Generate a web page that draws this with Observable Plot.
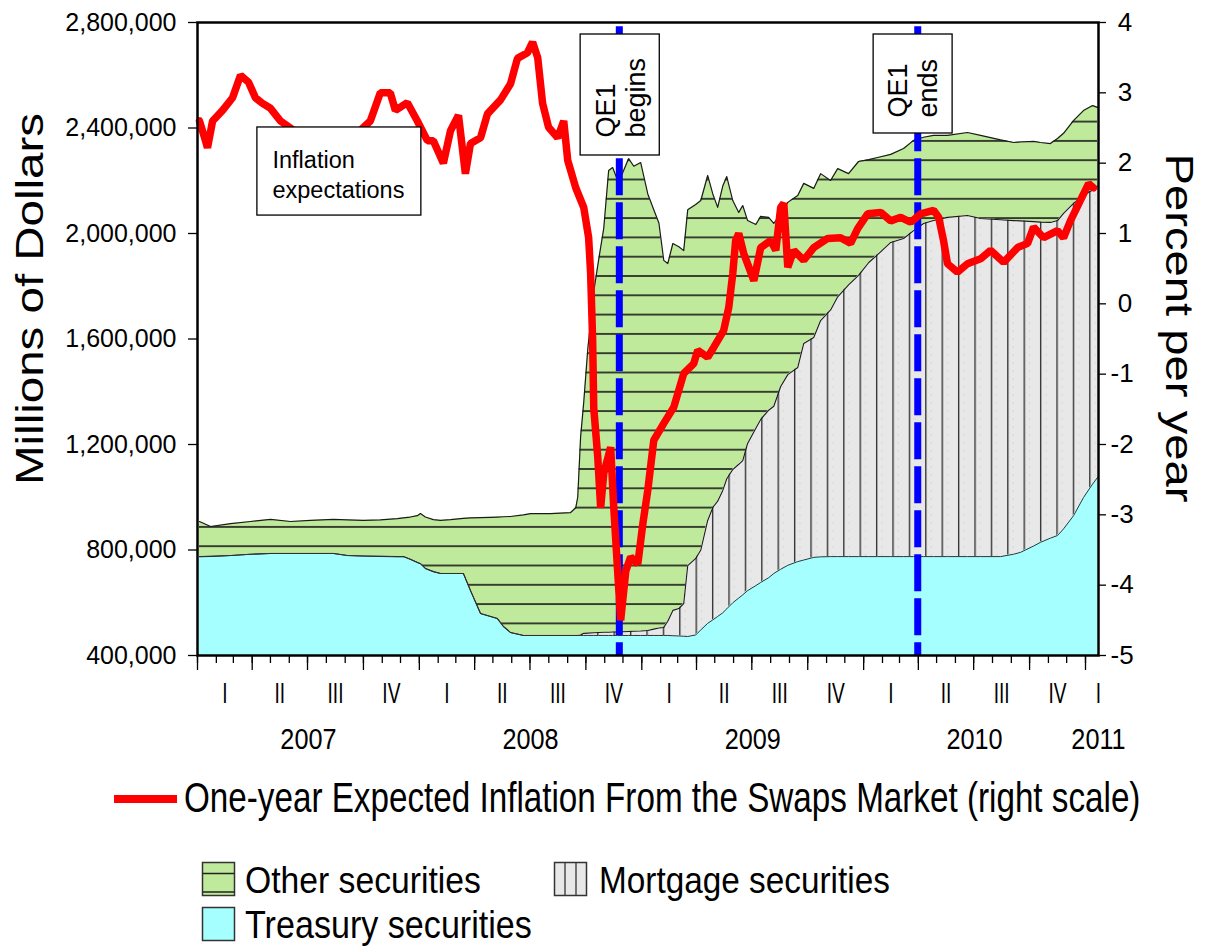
<!DOCTYPE html>
<html>
<head>
<meta charset="utf-8">
<script src="https://cdn.jsdelivr.net/npm/d3@7"></script>
<script src="https://cdn.jsdelivr.net/npm/@observablehq/plot@0.6"></script>
<style>
  body { margin: 0; background: #fff; font-family: "Liberation Sans", Arial, sans-serif; }
  #chart svg, #legend svg { display: block; }
</style>
</head>
<body>
<div id="chart"></div>
<div id="legend"></div>
<script>
// ---------- DATA ----------
// Fed securities holdings, billions of dollars (x1000 = millions), dates as decimal years
const secDates = [2007.009, 2007.059, 2007.149, 2007.239, 2007.329, 2007.419, 2007.509, 2007.613, 2007.676, 2007.748,
  2007.824, 2007.901, 2007.928, 2007.959, 2007.991, 2008.005, 2008.027, 2008.063, 2008.095, 2008.140,
  2008.198, 2008.230, 2008.275, 2008.320, 2008.351, 2008.378, 2008.410, 2008.468, 2008.500, 2008.590,
  2008.680, 2008.703, 2008.712, 2008.725, 2008.739, 2008.757, 2008.784, 2008.806, 2008.829, 2008.851,
  2008.869, 2008.892, 2008.914, 2008.941, 2008.964, 2008.995, 2009.027, 2009.054, 2009.077, 2009.099,
  2009.117, 2009.140, 2009.167, 2009.189, 2009.207, 2009.243, 2009.266, 2009.297, 2009.320, 2009.342,
  2009.365, 2009.383, 2009.410, 2009.437, 2009.455, 2009.477, 2009.514, 2009.536, 2009.572, 2009.595,
  2009.626, 2009.658, 2009.703, 2009.730, 2009.775, 2009.806, 2009.851, 2009.883, 2009.932, 2009.977,
  2010.023, 2010.063, 2010.122, 2010.180, 2010.225, 2010.270, 2010.315, 2010.378, 2010.468, 2010.527,
  2010.617, 2010.676, 2010.707, 2010.766, 2010.797, 2010.842, 2010.874, 2010.901, 2010.946, 2010.991,
  2011.032, 2011.054];
const treasury = [775, 776, 779, 784, 787, 787, 787, 787, 779, 777,
  776, 775, 775, 765, 753, 748, 730, 718, 711, 711,
  711, 646, 559, 548, 540, 510, 487, 476, 476, 476,
  476, 476, 476, 476, 476, 476, 476, 476, 476, 476,
  476, 476, 476, 476, 476, 476, 476, 476, 476, 476,
  476, 475, 474, 473, 472, 478, 497, 522, 535, 548,
  562, 577, 600, 618, 630, 646, 665, 677, 695, 711,
  727, 742, 756, 762, 772, 774, 775, 775, 775, 775,
  775, 775, 775, 775, 775, 775, 775, 775, 775, 775,
  775, 784, 791, 815, 829, 845, 855, 880, 930, 999,
  1050, 1075];
const mortgage = [0, 0, 0, 0, 0, 0, 0, 0, 0, 0,
  0, 0, 0, 0, 0, 0, 0, 0, 0, 0,
  0, 0, 0, 0, 0, 0, 0, 0, 0, 0,
  0, 0, 0, 2, 8, 9, 10, 11, 12, 12,
  13, 13, 14, 15, 16, 17, 19, 24, 28, 30,
  54, 96, 104, 124, 269, 290, 303, 390, 426, 437,
  464, 493, 505, 507, 509, 558, 597, 618, 635, 634,
  693, 723, 736, 821, 834, 896, 935, 985, 1030, 1066,
  1115, 1145, 1191, 1206, 1236, 1263, 1274, 1286, 1293, 1282,
  1277, 1265, 1257, 1230, 1214, 1197, 1194, 1196, 1184, 1145,
  1115, 1105];
const other = [133, 113, 121, 124, 129, 121, 125, 129, 135, 135,
  138, 144, 147, 160, 177, 190, 195, 197, 201, 204,
  209, 276, 364, 376, 385, 416, 440, 457, 462, 462,
  466, 484, 524, 752, 876, 1075, 1294, 1413, 1532, 1751,
  1761, 1711, 1740, 1793, 1763, 1776, 1655, 1590, 1536, 1392,
  1356, 1391, 1372, 1338, 1349, 1342, 1325, 1308, 1189, 1114,
  1154, 1146, 1020, 955, 967, 845, 772, 770, 731, 693,
  655, 653, 652, 607, 565, 557, 491, 486, 422, 432,
  390, 368, 334, 341, 342, 327, 323, 311, 315, 315,
  303, 296, 299, 304, 302, 299, 311, 304, 314, 322,
  320, 298];

// One-year expected inflation from the swaps market, percent per year
const inflDates = [2007.009, 2007.036, 2007.045, 2007.068, 2007.113, 2007.158, 2007.194, 2007.230, 2007.261, 2007.293,
  2007.329, 2007.374, 2007.419, 2007.486, 2007.554, 2007.644, 2007.712, 2007.779, 2007.824, 2007.869,
  2007.892, 2007.946, 2007.991, 2008.036, 2008.063, 2008.108, 2008.140, 2008.176, 2008.207, 2008.230,
  2008.275, 2008.306, 2008.365, 2008.410, 2008.441, 2008.486, 2008.509, 2008.532, 2008.554, 2008.581,
  2008.622, 2008.649, 2008.667, 2008.703, 2008.739, 2008.761, 2008.770, 2008.779, 2008.784, 2008.802,
  2008.815, 2008.829, 2008.860, 2008.874, 2008.892, 2008.905, 2008.928, 2008.950, 2008.982, 2009.005,
  2009.027, 2009.054, 2009.099, 2009.144, 2009.189, 2009.234, 2009.252, 2009.297, 2009.324, 2009.369,
  2009.392, 2009.410, 2009.423, 2009.437, 2009.459, 2009.505, 2009.536, 2009.581, 2009.604, 2009.626,
  2009.640, 2009.658, 2009.685, 2009.730, 2009.775, 2009.838, 2009.896, 2009.941, 2009.973, 2010.018,
  2010.077, 2010.122, 2010.167, 2010.212, 2010.257, 2010.315, 2010.338, 2010.360, 2010.378, 2010.423,
  2010.468, 2010.527, 2010.572, 2010.631, 2010.694, 2010.739, 2010.766, 2010.811, 2010.874, 2010.901,
  2010.932, 2010.977, 2011.014, 2011.036];
const inflation = [2.6, 2.32, 2.22, 2.6, 2.75, 2.93, 3.25, 3.15, 2.93, 2.85,
  2.78, 2.6, 2.5, 2.3, 2.2, 2.3, 2.4, 2.6, 3.0, 3.0,
  2.75, 2.86, 2.6, 2.32, 2.32, 2.0, 2.46, 2.68, 1.85, 2.28,
  2.36, 2.7, 2.9, 3.13, 3.49, 3.57, 3.72, 3.5, 2.85, 2.51,
  2.36, 2.6, 2.04, 1.65, 1.37, 0.94, 0.43, -0.52, -1.48, -2.18,
  -2.9, -2.41, -2.04, -2.9, -3.83, -4.5, -3.8, -3.6, -3.7, -3.12,
  -2.65, -1.94, -1.7, -1.47, -0.99, -0.85, -0.66, -0.76, -0.62, -0.38,
  -0.05, 0.43, 0.9, 1.0, 0.72, 0.33, 0.8, 0.9, 0.76, 1.37,
  1.43, 0.52, 0.76, 0.62, 0.8, 0.93, 0.94, 0.86, 1.07, 1.28,
  1.3, 1.18, 1.23, 1.16, 1.28, 1.33, 1.23, 0.9, 0.57, 0.45,
  0.57, 0.64, 0.76, 0.59, 0.8, 0.86, 1.09, 0.94, 1.04, 0.94,
  1.18, 1.47, 1.71, 1.65];

const qeDates = ["2008-11-25", "2010-03-31"];
const leftTicks = [400000, 800000, 1200000, 1600000, 2000000, 2400000, 2800000];
const rightTicks = [-5, -4, -3, -2, -1, 0, 1, 2, 3, 4];
const quarterNames = ["I", "II", "III", "IV"];
const yearLabels = [2007, 2008, 2009, 2010, 2011];

// ---------- HELPERS ----------
const toDate = y => {
  const yr = Math.floor(y);
  const s = Date.UTC(yr, 0, 1), e = Date.UTC(yr + 1, 0, 1);
  return new Date(s + (y - yr) * (e - s));
};
const BILLION = 1000; // millions per billion
const secRows = secDates.map((d, i) => {
  const t = treasury[i] * BILLION, m = mortgage[i] * BILLION, o = other[i] * BILLION;
  return {date: toDate(d), t, tm: t + m, tot: t + m + o};
});
const pctUnit = 2400000 / 9; // right scale -5..4 mapped onto left 400,000..2,800,000
const fromPct = r => 400000 + (r + 5) * pctUnit;
const toPct = v => (v - 400000) / pctUnit - 5;
const inflRows = inflDates.map((d, i) => ({date: toDate(d), v: fromPct(inflation[i])}));

const xStart = toDate(2007), xEnd = toDate(2011.0586);
const monthTicks = d3.utcMonth.range(xStart, d3.utcDay.offset(xEnd, 1));
const quarterTicks = d3.utcMonth.every(3).range(xStart, d3.utcDay.offset(xEnd, 1));

const qLabelTicks = [], qLabelText = new Map();
const yLabelTicks = [], yLabelText = new Map();
yearLabels.forEach(yr => {
  quarterNames.forEach((q, k) => {
    const s = Date.UTC(yr, 3 * k, 1), e = Date.UTC(yr, 3 * k + 3, 1);
    if (s >= +xEnd) return;
    const mid = e > +xEnd ? xEnd : new Date((s + e) / 2);
    qLabelTicks.push(mid); qLabelText.set(+mid, q);
  });
  const s = Date.UTC(yr, 0, 1), e = Date.UTC(yr + 1, 0, 1);
  const mid = e > +xEnd ? xEnd : new Date((s + e) / 2);
  yLabelTicks.push(mid); yLabelText.set(+mid, String(yr));
});

// ---------- PLOT ----------
const svg = Plot.plot({
  width: 1206,
  height: 765,
  marginTop: 22,
  marginBottom: 110,
  marginLeft: 197,
  marginRight: 108,
  style: {fontFamily: '"Liberation Sans", Arial, sans-serif', fontSize: "24px", color: "#000", background: "#fff", overflow: "visible"},
  x: {type: "utc", domain: [xStart, xEnd]},
  y: {domain: [400000, 2800000]},
  marks: [
    Plot.areaY(secRows, {x: "date", y1: "tm", y2: "tot", fill: "url(#patOther)"}),
    Plot.areaY(secRows, {x: "date", y1: "t", y2: "tm", fill: "url(#patMort)"}),
    Plot.areaY(secRows, {x: "date", y1: 0, y2: "t", fill: "#a6ffff", clip: true}),
    Plot.lineY(secRows, {x: "date", y: "tot", stroke: "#1a1a1a", strokeWidth: 1.2}),
    Plot.lineY(secRows, {x: "date", y: "tm", stroke: "#1a1a1a", strokeWidth: 1.1}),
    Plot.lineY(secRows, {x: "date", y: "t", stroke: "#333", strokeWidth: 1}),
    Plot.ruleX(qeDates, {x: d => new Date(d), stroke: "#0000ff", strokeWidth: 7, strokeDasharray: "37,7", strokeDashoffset: 39.7}),
    Plot.line(inflRows, {x: "date", y: "v", stroke: "#ff0000", strokeWidth: 7.5, strokeLinejoin: "bevel"}),
    // annotation boxes
    Plot.rect([0], {x1: toDate(2007.270), x2: toDate(2008.009), y1: 2068000, y2: 2402000, fill: "#fff", stroke: "#000", strokeWidth: 1.3}),
    Plot.rect([0], {x1: toDate(2008.725), x2: toDate(2009.081), y1: 2295750, y2: 2754500, fill: "#fff", stroke: "#000", strokeWidth: 1.3}),
    Plot.rect([0], {x1: toDate(2010.045), x2: toDate(2010.401), y1: 2379200, y2: 2754500, fill: "#fff", stroke: "#000", strokeWidth: 1.3}),
    Plot.text(["Inflation\nexpectations"], {text: d => d, x: toDate(2007.338), y: 2227500, textAnchor: "start", lineAnchor: "middle", lineHeight: 1.25, fontSize: 23.5}),
    Plot.text(["QE1\nbegins"], {text: d => d, x: toDate(2008.903), y: 2364000, rotate: -90, textAnchor: "start", lineAnchor: "middle", lineHeight: 1.12, fontSize: 27}),
    Plot.text(["QE1\nends"], {text: d => d, x: toDate(2010.221), y: 2439800, rotate: -90, textAnchor: "start", lineAnchor: "middle", lineHeight: 1.12, fontSize: 27}),
    Plot.frame({stroke: "#000", strokeWidth: 2.5}),
    // axes
    Plot.axisY({ticks: leftTicks, anchor: "left", tickSize: 9, tickPadding: 12, tickFormat: d3.format(","), fontSize: 25, label: null, strokeWidth: 1.3}),
    Plot.axisY({ticks: rightTicks.map(fromPct), anchor: "right", tickSize: 7, tickPadding: 5, fontSize: 26, label: null, strokeWidth: 1.3,
      tickFormat: v => { const r = Math.round(toPct(v)); return r < 0 ? String(r) : "\u2008" + r; }}),
    Plot.axisX({ticks: monthTicks, tickSize: 8, tickFormat: () => "", label: null, strokeWidth: 1.3}),
    Plot.axisX({ticks: quarterTicks, tickSize: 15, tickFormat: () => "", label: null, strokeWidth: 1.3}),
    Plot.axisX({ticks: qLabelTicks, tickSize: 0, tickPadding: 27, tickFormat: d => qLabelText.get(+d), fontSize: 29, label: null}),
    Plot.axisX({ticks: yLabelTicks, tickSize: 0, tickPadding: 73, tickFormat: d => yLabelText.get(+d), fontSize: 29, label: null}),
    Plot.text(["Millions of Dollars"], {text: d => d, frameAnchor: "left", rotate: -90, dx: -167, dy: -40, textAnchor: "middle", lineAnchor: "middle", fontSize: 38}),
    Plot.text(["Percent per year"], {text: d => d, frameAnchor: "right", rotate: 90, dx: 80, dy: -11, textAnchor: "middle", lineAnchor: "middle", fontSize: 38})
  ]
});
document.getElementById("chart").append(svg);

// hatch patterns for the stacked areas
const sel = d3.select(svg);
const defs = sel.insert("defs", ":first-child");
const po = defs.append("pattern").attr("id", "patOther").attr("patternUnits", "userSpaceOnUse").attr("width", 19.3).attr("height", 19.3);
po.append("rect").attr("width", 19.3).attr("height", 19.3).attr("fill", "#c0ea9b");
po.append("rect").attr("x", 0).attr("y", 5).attr("width", 19.3).attr("height", 1.6).attr("fill", "#1a1a1a");
const pm = defs.append("pattern").attr("id", "patMort").attr("patternUnits", "userSpaceOnUse").attr("width", 16.4).attr("height", 16);
pm.append("rect").attr("width", 16.4).attr("height", 16).attr("fill", "#e8e8e8");
pm.append("rect").attr("x", 6.8).attr("y", 0).attr("width", 1.3).attr("height", 16).attr("fill", "#2a2a2a");
pm.append("rect").attr("x", 12.3).attr("y", 2).attr("width", 0.8).attr("height", 2).attr("fill", "#d2d2d2");
pm.append("rect").attr("x", 12.3).attr("y", 10).attr("width", 0.8).attr("height", 2).attr("fill", "#d2d2d2");

// stretch / condense texts to match the reference
sel.selectAll("text").each(function () {
  const s = this.textContent;
  const set = L => { this.setAttribute("textLength", L); this.setAttribute("lengthAdjust", "spacingAndGlyphs"); };
  if (s === "Millions of Dollars") set(372);
  else if (s === "Percent per year") set(349);
  else if (/^(I|II|III|IV)$/.test(s)) set(this.getComputedTextLength() * 0.66);
  else if (/^20\d\d$/.test(s)) set(this.getComputedTextLength() * 0.87);
});

// ---------- LEGEND ----------
const lg = d3.select("#legend").append("svg").attr("width", 1206).attr("height", 183)
  .style("font-family", '"Liberation Sans", Arial, sans-serif');
lg.append("line").attr("x1", 114).attr("x2", 177).attr("y1", 34).attr("y2", 34).attr("stroke", "#ff0000").attr("stroke-width", 8);
// narrow, tall legend text: size chosen to the target width, then stretched vertically to the target cap height
const ltext = (x, y, width, capHeight, s) => {
  const t = lg.append("text").attr("x", 0).attr("y", 0).attr("font-size", 40).attr("fill", "#000").text(s);
  const natural = t.node().getComputedTextLength();
  const fs = 40 * width / natural;
  const sy = capHeight / (fs * 0.716);
  t.attr("font-size", fs).attr("transform", `translate(${x},${y}) scale(1,${sy})`);
};
ltext(184, 47, 957, 30, "One-year Expected Inflation From the Swaps Market (right scale)");
// Other securities swatch
lg.append("rect").attr("x", 202.5).attr("y", 97.5).attr("width", 32).attr("height", 33).attr("fill", "#c0ea9b").attr("stroke", "#333").attr("stroke-width", 1.5);
lg.append("line").attr("x1", 202.5).attr("x2", 234.5).attr("y1", 108.5).attr("y2", 108.5).attr("stroke", "#222").attr("stroke-width", 1.6);
lg.append("line").attr("x1", 202.5).attr("x2", 234.5).attr("y1", 127).attr("y2", 127).attr("stroke", "#222").attr("stroke-width", 1.6);
ltext(245, 128, 236, 27, "Other securities");
// Mortgage securities swatch
lg.append("rect").attr("x", 554.5).attr("y", 97.5).attr("width", 32).attr("height", 33).attr("fill", "#e8e8e8").attr("stroke", "#333").attr("stroke-width", 1.5);
lg.append("line").attr("x1", 565).attr("x2", 565).attr("y1", 97.5).attr("y2", 130.5).attr("stroke", "#333").attr("stroke-width", 1.3);
lg.append("line").attr("x1", 576).attr("x2", 576).attr("y1", 97.5).attr("y2", 130.5).attr("stroke", "#333").attr("stroke-width", 1.3);
ltext(599, 128, 291, 27, "Mortgage securities");
// Treasury securities swatch
lg.append("rect").attr("x", 202.5).attr("y", 142.5).attr("width", 32).attr("height", 33).attr("fill", "#a6ffff").attr("stroke", "#333").attr("stroke-width", 1.5);
ltext(245, 173, 287, 28, "Treasury securities");
</script>
</body>
</html>
